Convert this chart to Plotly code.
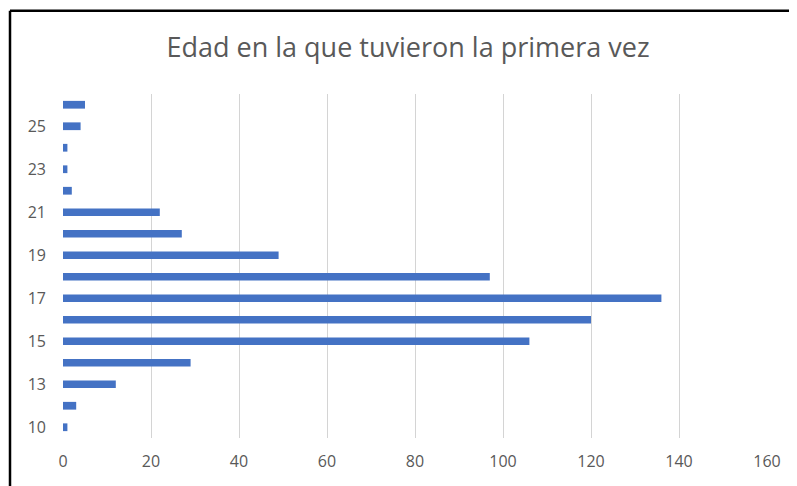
import plotly.graph_objects as go

edades = ["10", "12", "13", "14", "15", "16", "17", "18", "19", "20", "21", "22", "23", "24", "25", "26"]
frecuencias = [1, 3, 12, 29, 106, 120, 136, 97, 49, 27, 22, 2, 1, 1, 4, 5]
etiquetas_y = ["10", "13", "15", "17", "19", "21", "23", "25"]
ticks_x = [0, 20, 40, 60, 80, 100, 120, 140, 160]

# page body adds an 8px offset; lay out in reference pixels minus that offset
OFF = 8
W, H = 797 - OFF, 486 - OFF
L, R, T, B = 63 - OFF, 30, 93.5 - OFF, 47.5
pw, ph = W - L - R, H - T - B

def px_x(p):
    return (p - OFF - L) / pw

def px_y(p):
    return (H - B - (p - OFF)) / ph

fig = go.Figure()
fig.add_trace(go.Bar(
    x=frecuencias, y=edades, orientation="h",
    marker=dict(color="#4472C4", line=dict(width=0)),
    width=0.36,
))

fig.update_layout(
    width=W, height=H,
    margin=dict(l=L, r=R, t=T, b=B),
    paper_bgcolor="white", plot_bgcolor="white",
    showlegend=False,
    title=dict(
        text="Edad en la que tuvieron la primera vez",
        font=dict(family="Open Sans", size=27, color="#595959"),
        x=px_x(408), xref="paper", xanchor="center",
        y=1 - (48 - OFF) / H, yref="container", yanchor="middle",
    ),
    xaxis=dict(
        range=[0, 160], tickvals=ticks_x,
        showgrid=True, gridcolor="#d4d4d4", gridwidth=1.2,
        zeroline=False, showline=False, ticks="",
        tickfont=dict(family="Open Sans", size=16, color="#595959"),
        ticklabelstandoff=12,
    ),
    yaxis=dict(
        type="category", categoryorder="array", categoryarray=edades,
        tickvals=etiquetas_y, showgrid=False, zeroline=False, showline=False, ticks="",
        tickfont=dict(family="Open Sans", size=16, color="#595959"),
        ticklabelstandoff=16,
    ),
    shapes=[
        dict(type="line", xref="paper", yref="paper",
             x0=px_x(10), x1=px_x(10), y0=px_y(520), y1=px_y(10),
             line=dict(color="black", width=2.5)),
        dict(type="line", xref="paper", yref="paper",
             x0=px_x(10), x1=px_x(830), y0=px_y(10), y1=px_y(10),
             line=dict(color="black", width=2.5)),
    ],
)

fig.write_html("out.html")
